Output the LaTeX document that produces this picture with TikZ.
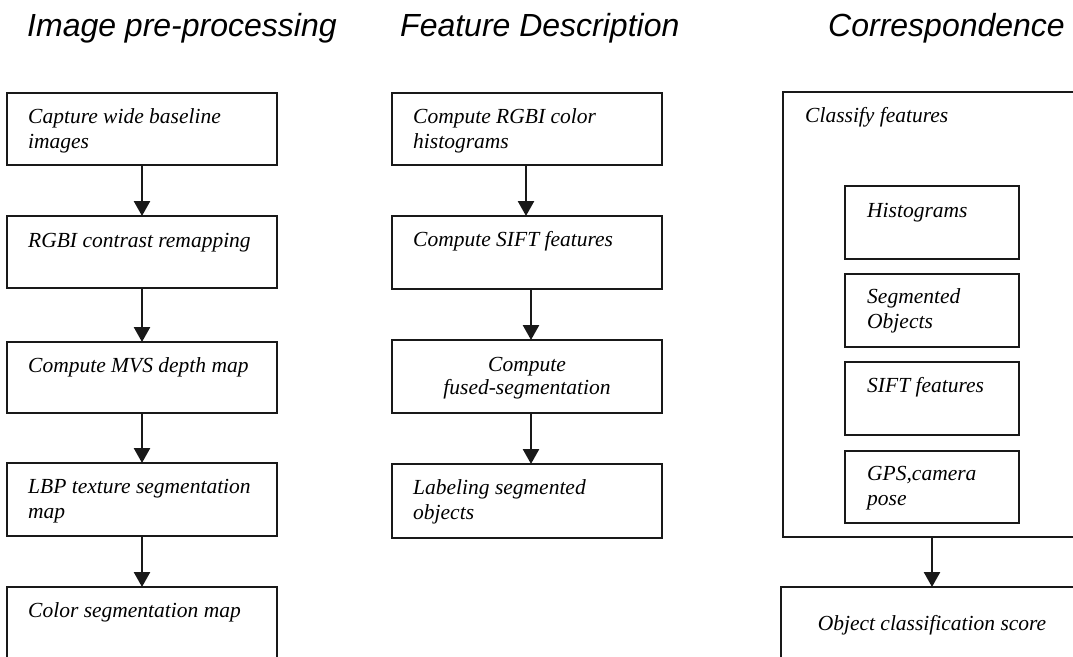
\documentclass[tikz,border=0pt]{standalone}
\usepackage{fontspec}
\setmainfont{Liberation Serif}
\newfontfamily\headsans{Liberation Sans}
\usetikzlibrary{arrows.meta}
\newcommand\cellfont{\fontsize{21.5}{25}\selectfont\itshape}
\newcommand\hdrfont{\headsans\fontsize{32}{36}\selectfont\itshape}

\tikzset{
  frame/.style={draw=black!90, line width=1.3pt, anchor=north west,
    inner sep=0pt, outer sep=0pt},
  txt/.style={anchor=north west, inner sep=0pt, align=left, font=\cellfont},
  ctxt/.style={anchor=north, inner sep=0pt, align=center, font=\cellfont},
  title/.style={anchor=base west, inner sep=0pt, font=\hdrfont},
  flow/.style={line width=2.6pt, draw=black!90,
    -{Triangle[width=16pt,length=15pt]}},
}

\begin{document}
\begin{tikzpicture}[x=1pt, y=-1pt]
\useasboundingbox (0,0) rectangle (1073,656);
\clip (0,0) rectangle (1073,656);

% column headings
\node[title] (h1) at (27,36)  {Image pre-processing};
\node[title] (h2) at (400,36) {Feature Description};
\node[title] (h3) at (828,36) {Correspondence};

% image pre-processing chain
\node[frame, minimum width=270pt, minimum height=72pt]  (a1) at (7,93)  {};
\node[frame, minimum width=270pt, minimum height=72pt]  (a2) at (7,216) {};
\node[frame, minimum width=270pt, minimum height=71pt]  (a3) at (7,342) {};
\node[frame, minimum width=270pt, minimum height=73pt]  (a4) at (7,463) {};
\node[frame, minimum width=270pt, minimum height=100pt] (a5) at (7,587) {};

\node[txt] (a1t) at ([xshift=21pt,yshift=-12.5pt]a1.north west) {\strut Capture wide baseline\\images};
\node[txt] (a2t) at ([xshift=21pt,yshift=-13.5pt]a2.north west) {\strut RGBI contrast remapping};
\node[txt] (a3t) at ([xshift=21pt,yshift=-12.5pt]a3.north west) {\strut Compute MVS depth map};
\node[txt] (a4t) at ([xshift=21pt,yshift=-12.5pt]a4.north west) {\strut LBP texture segmentation\\map};
\node[txt] (a5t) at ([xshift=21pt,yshift=-12.5pt]a5.north west) {\strut Color segmentation map};

\draw[flow] (a1.south) -- (a2.north);
\draw[flow] (a2.south) -- (a3.north);
\draw[flow] (a3.south) -- (a4.north);
\draw[flow] (a4.south) -- (a5.north);

% feature description chain
\node[frame, minimum width=270pt, minimum height=72pt] (b1) at (392,93)  {};
\node[frame, minimum width=270pt, minimum height=73pt] (b2) at (392,216) {};
\node[frame, minimum width=270pt, minimum height=73pt] (b3) at (392,340) {};
\node[frame, minimum width=270pt, minimum height=74pt] (b4) at (392,464) {};

\node[txt] (b1t) at ([xshift=21pt,yshift=-12.5pt]b1.north west) {\strut Compute RGBI color\\histograms};
\node[txt] (b2t) at ([xshift=21pt,yshift=-12.5pt]b2.north west) {\strut Compute SIFT features};
\node[ctxt, font=\fontsize{21.5}{23}\selectfont\itshape] (b3t) at ([yshift=-15.5pt]b3.north) {\strut Compute\\fused-segmentation};
\node[txt] (b4t) at ([xshift=21pt,yshift=-12.5pt]b4.north west) {\strut Labeling segmented\\objects};

\draw[flow] ([xshift=-1pt]b1.south) -- ([xshift=-1pt]b2.north);
\draw[flow] ([xshift=4pt]b2.south) -- ([xshift=4pt]b3.north);
\draw[flow] ([xshift=4pt]b3.south) -- ([xshift=4pt]b4.north);

% correspondence: classifier with its feature groups
\node[frame, minimum width=298pt, minimum height=445pt] (c0) at (783,92) {};
\node[txt] (c0t) at ([xshift=22pt,yshift=-12.5pt]c0.north west) {\strut Classify features};

\node[frame, minimum width=174pt, minimum height=73pt] (c1) at (845,186) {};
\node[frame, minimum width=174pt, minimum height=73pt] (c2) at (845,274) {};
\node[frame, minimum width=174pt, minimum height=73pt] (c3) at (845,362) {};
\node[frame, minimum width=174pt, minimum height=72pt] (c4) at (845,451) {};

\node[txt] (c1t) at ([xshift=22pt,yshift=-13.5pt]c1.north west) {\strut Histograms};
\node[txt] (c2t) at ([xshift=22pt,yshift=-11.5pt]c2.north west) {\strut Segmented\\Objects};
\node[txt] (c3t) at ([xshift=22pt,yshift=-12.5pt]c3.north west) {\strut SIFT features};
\node[txt] (c4t) at ([xshift=22pt,yshift=-11.5pt]c4.north west) {\strut GPS,camera\\pose};

\node[frame, minimum width=302pt, minimum height=100pt] (c5) at (781,587) {};
\node[ctxt] (c5t) at ([yshift=-25.5pt]c5.north) {\strut Object classification score};

\draw[flow] (c0.south) -- (c5.north);
\end{tikzpicture}
\end{document}
